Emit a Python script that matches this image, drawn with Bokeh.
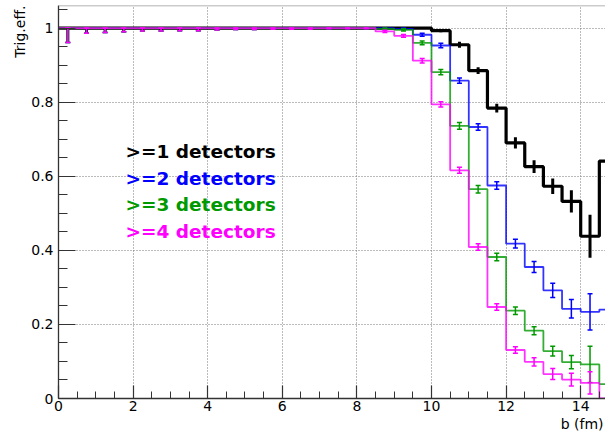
import numpy as np
from bokeh.plotting import figure
from bokeh.models import Range1d, SingleIntervalTicker, Label, Span, NumeralTickFormatter, Title
from bokeh.embed import file_html
from bokeh.resources import INLINE

# ---------------- data ----------------
bin_edges = [0.0, 0.5, 1.0, 1.5, 2.0, 2.5, 3.0, 3.5, 4.0, 4.5, 5.0, 5.5, 6.0, 6.5, 7.0, 7.5,
             8.0, 8.5, 9.0, 9.5, 10.0, 10.5, 11.0, 11.5, 12.0, 12.5, 13.0, 13.5, 14.0, 14.5, 15.0]

eff_ge1 = [1.0, 1.0, 1.0, 1.0, 1.0, 1.0, 1.0, 1.0, 1.0, 1.0, 1.0, 1.0, 1.0, 1.0, 1.0,
           1.0, 1.0, 1.0, 1.0, 1.0, 0.993, 0.955, 0.885, 0.784, 0.690, 0.626, 0.573, 0.532, 0.438, 0.641]
err_ge1 = [0.040, 0.015, 0.013, 0.011, 0.009, 0.009, 0.008, 0.008, 0.005, 0.004, 0.004, 0.003, 0.003, 0.003, 0.002,
           0.002, 0.002, 0.002, 0.002, 0.002, 0.004, 0.008, 0.009, 0.012, 0.015, 0.017, 0.021, 0.030, 0.058, 0.080]

eff_ge2 = [1.0, 1.0, 1.0, 1.0, 1.0, 1.0, 1.0, 1.0, 1.0, 1.0, 1.0, 1.0, 1.0, 1.0, 1.0,
           1.0, 1.0, 1.0, 0.998, 0.982, 0.953, 0.858, 0.733, 0.575, 0.418, 0.355, 0.292, 0.242, 0.234, 0.240]
err_ge2 = [0.039, 0.014, 0.012, 0.010, 0.008, 0.008, 0.007, 0.007, 0.005, 0.004, 0.004, 0.003, 0.003, 0.003, 0.002,
           0.002, 0.002, 0.002, 0.002, 0.004, 0.006, 0.007, 0.009, 0.010, 0.012, 0.015, 0.019, 0.025, 0.049, 0.060]

eff_ge3 = [1.0, 1.0, 1.0, 1.0, 1.0, 1.0, 1.0, 1.0, 1.0, 1.0, 1.0, 1.0, 1.0, 1.0, 1.0,
           1.0, 1.0, 0.998, 0.995, 0.960, 0.881, 0.736, 0.565, 0.382, 0.237, 0.183, 0.128, 0.098, 0.092, 0.039]
err_ge3 = [0.039, 0.014, 0.012, 0.010, 0.008, 0.008, 0.007, 0.007, 0.005, 0.004, 0.004, 0.003, 0.003, 0.003, 0.002,
           0.002, 0.002, 0.002, 0.003, 0.005, 0.007, 0.009, 0.010, 0.010, 0.010, 0.011, 0.013, 0.018, 0.049, 0.030]

eff_ge4 = [1.0, 1.0, 1.0, 1.0, 1.0, 1.0, 1.0, 1.0, 1.0, 1.0, 1.0, 1.0, 1.0, 1.0, 1.0,
           1.0, 1.0, 0.991, 0.979, 0.912, 0.794, 0.616, 0.409, 0.247, 0.131, 0.099, 0.066, 0.051, 0.042, 0.0]
err_ge4 = [0.039, 0.014, 0.012, 0.010, 0.008, 0.008, 0.007, 0.007, 0.005, 0.004, 0.004, 0.003, 0.003, 0.003, 0.002,
           0.002, 0.002, 0.003, 0.004, 0.006, 0.007, 0.008, 0.009, 0.009, 0.009, 0.011, 0.015, 0.017, 0.030, 0.0]

legend_labels = [">=1 detectors", ">=2 detectors", ">=3 detectors", ">=4 detectors"]
series_colors = ["#000000", "#0000ff", "#009900", "#ff00ff"]
y_title = "Trig.eff."
x_title = "b (fm)"

# ---------------- figure ----------------
p = figure(width=605, height=435,
           x_range=Range1d(0, 14.665), y_range=Range1d(0, 1.061),
           output_backend="svg", toolbar_location=None,
           min_border_left=58, min_border_right=0, min_border_top=5, min_border_bottom=37)
p.background_fill_color = "white"
p.border_fill_color = "white"
p.outline_line_color = None

p.xaxis.ticker = SingleIntervalTicker(interval=2, num_minor_ticks=4)
p.yaxis.ticker = SingleIntervalTicker(interval=0.2, num_minor_ticks=4)
p.yaxis.formatter = NumeralTickFormatter(format="0.[0]")

for ax in (p.xaxis, p.yaxis):
    ax.axis_line_color = "#333333"
    ax.axis_line_width = 1.3
    ax.major_tick_line_color = "#333333"
    ax.minor_tick_line_color = "#333333"
    ax.major_tick_line_width = 1.2
    ax.minor_tick_line_width = 1.0
    ax.major_tick_out = 0
    ax.minor_tick_out = 0
    ax.major_label_text_font = "DejaVu Sans"
    ax.major_label_text_font_size = "14px"
    ax.major_label_text_color = "black"

p.xaxis.major_tick_in = 13
p.xaxis.minor_tick_in = 7
p.yaxis.major_tick_in = 17
p.yaxis.minor_tick_in = 9
p.xaxis.major_label_standoff = 2
p.yaxis.major_label_standoff = 5

for g in (p.xgrid, p.ygrid):
    g.grid_line_color = "#777777"
    g.grid_line_dash = "1 2"
    g.grid_line_width = 1

p.add_layout(Span(location=1.061, dimension="width", line_color="#9a9a9a", line_width=1.5))

# axis titles (right/top aligned like ROOT)
p.add_layout(Title(text=y_title, align="right", text_font="DejaVu Sans", text_font_size="14px",
                   text_font_style="normal", text_color="black", standoff=2), "left")
p.add_layout(Title(text=x_title, align="right", text_font="DejaVu Sans", text_font_size="14px",
                   text_font_style="normal", text_color="black", standoff=0, offset=2), "below")

# ---------------- histograms ----------------
centers = [(bin_edges[i] + bin_edges[i + 1]) / 2 for i in range(len(bin_edges) - 1)]
all_vals = [eff_ge1, eff_ge2, eff_ge3, eff_ge4]
all_errs = [err_ge1, err_ge2, err_ge3, err_ge4]

for k, (vals, errs, col) in enumerate(zip(all_vals, all_errs, series_colors)):
    step_y = list(vals) + [vals[-1]]
    thick = (k == 0)
    p.step(x=bin_edges, y=step_y, mode="after", line_color=col,
           line_width=3.2 if thick else 1.8, line_alpha=1.0 if thick else 0.8)
    xs, lo, hi = [], [], []
    for c, v, e in zip(centers, vals, errs):
        if e <= 0:
            continue
        xs.append(c)
        lo.append(v - e)
        hi.append(min(v + e, 1.0) if v >= 0.99 else v + e)
    p.segment(x0=xs, y0=lo, x1=xs, y1=hi, line_color=col,
              line_width=3.0 if thick else 1.5)
    if not thick:
        p.scatter(x=xs + xs, y=lo + hi, marker="dash", size=5, line_color=col, line_width=1.5)

# ---------------- legend texts ----------------
legend_baselines = [247, 220.3, 193.7, 167]
for lab, col, yb in zip(legend_labels, series_colors, legend_baselines):
    p.add_layout(Label(x=67, y=yb, x_units="screen", y_units="screen", text=lab,
                       text_align="left", text_baseline="alphabetic",
                       text_font="DejaVu Sans", text_font_style="bold",
                       text_font_size="18.5px", text_color=col))

open("out.html", "w").write(file_html(p, INLINE))
